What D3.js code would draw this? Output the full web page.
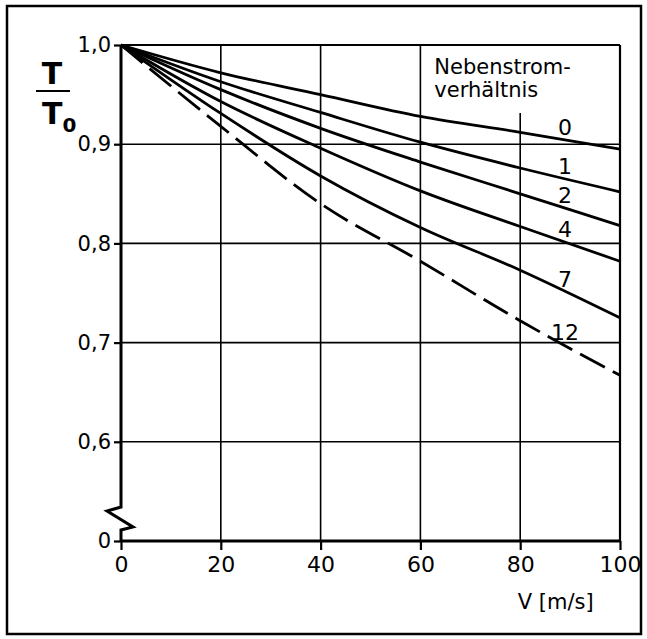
<!DOCTYPE html>
<html>
<head>
<meta charset="utf-8">
<script src="https://cdn.jsdelivr.net/npm/d3@7"></script>
<style>
    body { margin: 0; background: #fff; }
    svg text { font-family: "DejaVu Sans", sans-serif; fill: #000; }
    .grid line { stroke: #000; stroke-width: 1.6; }
    .curve { fill: none; stroke: #000; stroke-width: 2.8; }
    .axis .domain { display: none; }
    .axis line { stroke: #000; stroke-width: 2.2; }
</style>
</head>
<body>
<svg width="647" height="639"></svg>
<script>

var margin = { top: 45, right: 27, bottom: 98, left: 121 }
    , width = 647 - margin.left - margin.right
    , height = 639 - margin.top - margin.bottom;

// velocity V [m/s]
var speeds = [0, 20, 40, 60, 80, 100];

// T/T0 for each bypass ratio (Nebenstromverhältnis)
var ratio0 = [1.0, 0.972, 0.950, 0.928, 0.912, 0.895];
var ratio1 = [1.0, 0.963, 0.932, 0.902, 0.876, 0.852];
var ratio2 = [1.0, 0.955, 0.916, 0.882, 0.850, 0.818];
var ratio4 = [1.0, 0.943, 0.896, 0.853, 0.817, 0.782];
var ratio7 = [1.0, 0.931, 0.868, 0.816, 0.773, 0.725];
var ratio12 = [1.0, 0.918, 0.840, 0.782, 0.722, 0.667];

var ratioNames = ["0", "1", "2", "4", "7", "12"];

// axis ticks
var xTickValues = [0, 20, 40, 60, 80, 100];
var yTickValues = [0.5, 0.6, 0.7, 0.8, 0.9, 1.0];
var yTickLabels = ["0", "0,6", "0,7", "0,8", "0,9", "1,0"]; // bottom is the broken axis origin

var series = [ratio0, ratio1, ratio2, ratio4, ratio7, ratio12].map(function (vals, i) {
    return {
        name: ratioNames[i],
        dashed: ratioNames[i] == "12",
        points: vals.map(function (v, j) { return { v: speeds[j], t: v }; })
    };
});

var x = d3.scaleLinear().domain([0, 100]).range([0, width]);
var y = d3.scaleLinear().domain([0.5, 1.0]).range([height, 0]);

var line = d3.line()
    .x(function (d) { return x(d.v); })
    .y(function (d) { return y(d.t); })
    .curve(d3.curveMonotoneX);

var root = d3.select("svg");

// outer frame
root.append("rect")
    .attr("x", 7).attr("y", 6)
    .attr("width", 634).attr("height", 628)
    .attr("fill", "none")
    .attr("stroke", "#000")
    .attr("stroke-width", 2.5);

var svg = root.append("g")
    .attr("transform", "translate(" + margin.left + "," + margin.top + ")");

// grid
var grid = svg.append("g").attr("class", "grid");

grid.selectAll(".hgrid")
    .data(yTickValues.slice(1))
    .enter()
    .append("line")
    .attr("x1", 0).attr("x2", width)
    .attr("y1", function (d) { return y(d); })
    .attr("y2", function (d) { return y(d); })
    .style("stroke-width", function (d) { return d == 1.0 ? 2.2 : 1.6; });

grid.selectAll(".vgrid")
    .data(xTickValues.slice(1))
    .enter()
    .append("line")
    .attr("x1", function (d) { return x(d); })
    .attr("x2", function (d) { return x(d); })
    .attr("y1", function (d) { return d == 80 ? 68 : 0; }) // 80 stops under the legend text
    .attr("y2", height)
    .style("stroke-width", function (d) { return d == 100 ? 2.2 : 1.6; });

// axes (ticks + labels)
var xAxis = d3.axisBottom(x)
    .tickValues(xTickValues)
    .tickSize(9)
    .tickPadding(6)
    .tickFormat(function (d) { return d; });

var yAxis = d3.axisLeft(y)
    .tickValues(yTickValues)
    .tickSize(7)
    .tickPadding(3)
    .tickFormat(function (d, i) { return yTickLabels[i]; });

svg.append("g")
    .attr("class", "axis x-axis")
    .attr("transform", "translate(0," + height + ")")
    .call(xAxis)
    .selectAll("text")
    .style("font-size", "22px");

svg.append("g")
    .attr("class", "axis y-axis")
    .call(yAxis)
    .selectAll("text")
    .style("font-size", "21px");

// bottom axis line
svg.append("line")
    .attr("x1", 0).attr("x2", width)
    .attr("y1", height).attr("y2", height)
    .attr("stroke", "#000")
    .attr("stroke-width", 3.2);

// left axis with break symbol
var b = height - 34;
svg.append("path")
    .attr("d", "M0,0 L0," + b + " L-14," + (b + 4) + " L12," + (b + 20) + " L0," + (b + 23) + " L0," + height)
    .attr("fill", "none")
    .attr("stroke", "#000")
    .attr("stroke-width", 3)
    .attr("stroke-linejoin", "miter");

// curves
svg.append("g")
    .selectAll("path")
    .data(series)
    .enter()
    .append("path")
    .attr("class", "curve")
    .attr("d", function (d) { return line(d.points); })
    .attr("stroke-dasharray", function (d) { return d.dashed ? "28,9" : null; });

// curve labels near V = 89
svg.append("g")
    .selectAll("text")
    .data(series)
    .enter()
    .append("text")
    .attr("x", x(89))
    .attr("y", function (d) {
        var a = d.points[4].t, c = d.points[5].t;
        return y(a + (c - a) * 0.45) - 13;
    })
    .attr("dy", "0.36em")
    .attr("text-anchor", "middle")
    .style("font-size", "22px")
    .text(function (d) { return d.name; });

// legend title
var legend = svg.append("text")
    .attr("x", x(62.8))
    .attr("y", 29)
    .style("font-size", "21px");
legend.append("tspan").attr("x", x(62.8)).text("Nebenstrom-");
legend.append("tspan").attr("x", x(62.8)).attr("dy", 23).text("verhältnis");

// x axis title
svg.append("text")
    .attr("x", x(79.5))
    .attr("y", height + 68)
    .style("font-size", "21px")
    .text("V [m/s]");

// y axis title T / T0
var yt = root.append("g").attr("class", "y-title");
yt.append("text")
    .attr("x", 52).attr("y", 84)
    .attr("text-anchor", "middle")
    .style("font-size", "30px")
    .style("font-weight", "bold")
    .text("T");
yt.append("line")
    .attr("x1", 36).attr("x2", 70)
    .attr("y1", 91).attr("y2", 91)
    .attr("stroke", "#000")
    .attr("stroke-width", 2);
var t0 = yt.append("text")
    .attr("x", 42).attr("y", 124)
    .style("font-size", "30px")
    .style("font-weight", "bold");
t0.append("tspan").text("T");
t0.append("tspan").attr("dy", 8).style("font-size", "20px").text("0");

</script>
</body>
</html>
